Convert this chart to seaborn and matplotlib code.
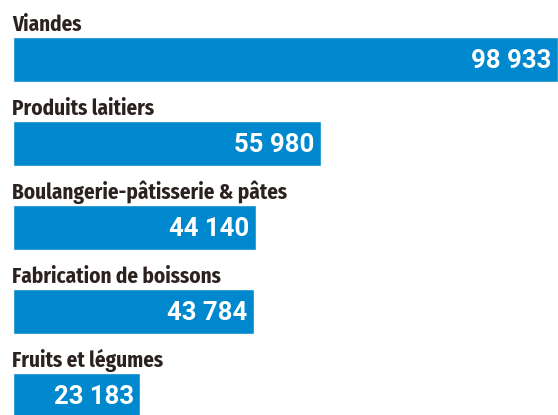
import matplotlib
matplotlib.use('Agg')
import matplotlib.pyplot as plt
import seaborn as sns
import pandas as pd

# Données (emplois par secteur)
categories = ['Viandes', 'Produits laitiers', 'Boulangerie-pâtisserie & pâtes',
              'Fabrication de boissons', 'Fruits et légumes']
valeurs = [98933, 55980, 44140, 43784, 23183]
etiquettes = ['98\u202f933', '55\u202f980', '44\u202f140', '43\u202f784', '23\u202f183']

df = pd.DataFrame({'secteur': categories, 'valeur': valeurs})

sns.set_style('white')
plt.rcParams['font.family'] = ['Fira Sans Condensed', 'DejaVu Sans']

fig = plt.figure(figsize=(5.58, 4.15), dpi=100)
ax = fig.add_axes([12.5 / 558, 0, 545 / 558, 1])

sns.barplot(data=df, x='valeur', y='secteur', color='#0088cf', width=0.536,
            saturation=1, ax=ax)

ax.set_xlim(0, 98933)
ax.set_ylim(4.232, -0.708)

for i, (cat, v, lab) in enumerate(zip(categories, valeurs, etiquettes)):
    ax.text(0, i - 0.34, cat, ha='left', va='baseline', fontsize=15.2,
            fontweight='bold', color='#2b2220')
    ax.annotate(lab, (v, i + 0.02), xytext=(-4.5, 0), textcoords='offset points',
                ha='right', va='center', fontsize=18.5, fontweight='bold',
                color='white', family=['Roboto', 'DejaVu Sans'])

ax.set_axis_off()
fig.savefig('out.png', dpi=100)
